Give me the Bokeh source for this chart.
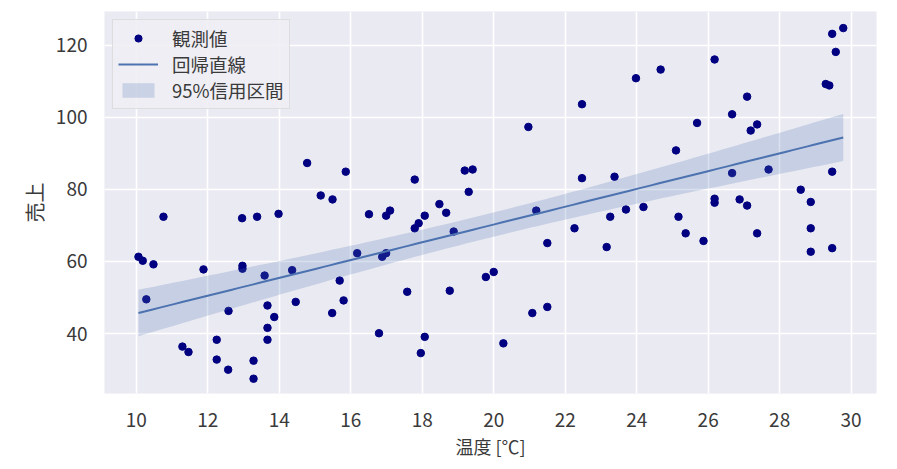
import numpy as np
from bokeh.plotting import figure
from bokeh.models import Legend, LegendItem, FixedTicker, Range1d
from bokeh.embed import file_html
from bokeh.resources import INLINE

# observed data: temperature [°C] and sales
temp = [10.06, 10.18, 10.48, 10.28, 10.76, 11.29, 11.46, 11.88, 12.25, 12.25,
        12.58, 12.57, 12.96, 12.97, 12.97, 13.28, 13.28, 13.38, 13.59, 13.67,
        13.86, 13.67, 13.67, 13.98, 14.36, 14.46, 14.78, 15.16, 15.49, 15.86,
        15.69, 15.80, 15.48, 16.18, 16.51, 16.79, 16.88, 16.99, 16.99, 17.10,
        17.58, 17.79, 17.79, 17.90, 18.07, 17.96, 18.07, 18.48, 18.67, 18.77,
        18.88, 19.19, 19.41, 19.30, 19.78, 20.00, 20.27, 20.97, 21.08, 21.19,
        21.50, 21.50, 22.26, 22.47, 22.47, 23.16, 23.26, 23.38, 23.70, 23.98,
        24.19, 24.67, 25.10, 25.17, 25.37, 25.69, 25.87, 26.18, 26.18, 26.18,
        26.67, 26.67, 26.88, 27.09, 27.09, 27.19, 27.37, 27.37, 27.69, 28.59,
        28.87, 28.87, 28.87, 29.29, 29.39, 29.47, 29.57, 29.47, 29.47, 29.78]
sales = [61.3, 60.2, 59.2, 49.5, 72.4, 36.4, 34.9, 57.8, 38.3, 32.8,
         46.3, 30.0, 72.0, 58.8, 58.0, 32.5, 27.5, 72.4, 56.1, 47.8,
         44.6, 41.6, 38.3, 73.2, 57.6, 48.8, 87.3, 78.3, 77.2, 84.9,
         54.7, 49.2, 45.7, 62.3, 73.1, 40.1, 61.3, 62.3, 72.7, 74.1,
         51.6, 82.7, 69.2, 70.6, 72.7, 34.6, 39.1, 75.9, 73.5, 51.9,
         68.3, 85.2, 85.5, 79.3, 55.7, 57.1, 37.3, 97.3, 45.7, 74.1,
         65.1, 47.4, 69.2, 103.6, 83.1, 64.0, 72.4, 83.5, 74.4, 110.8,
         75.1, 113.2, 90.8, 72.4, 67.8, 98.4, 65.7, 116.0, 77.4, 76.3,
         100.8, 84.5, 77.2, 105.7, 75.5, 96.3, 98.0, 67.8, 85.5, 79.9,
         76.5, 69.2, 62.7, 109.2, 108.8, 123.1, 118.1, 84.9, 63.7, 124.7]

x_ticks = [10, 12, 14, 16, 18, 20, 22, 24, 26, 28, 30]
y_ticks = [40, 60, 80, 100, 120]
labels = ["観測値", "回帰直線", "95%信用区間"]
x_label = "温度 [℃]"
y_label = "売上"

# linear regression with 95% confidence band
x = np.array(temp)
y = np.array(sales)
n = len(x)
slope, intercept = np.polyfit(x, y, 1)
resid = y - (slope * x + intercept)
s = np.sqrt(np.sum(resid ** 2) / (n - 2))
xbar = x.mean()
sxx = np.sum((x - xbar) ** 2)
t975 = 1.984
xs = np.linspace(x.min(), x.max(), 100)
ys = slope * xs + intercept
half = t975 * s * np.sqrt(1.0 / n + (xs - xbar) ** 2 / sxx)

FONT = "Noto Sans CJK JP"
TXT = "#3a3a3a"

p = figure(width=881, height=469, output_backend="svg", toolbar_location=None,
           x_range=Range1d(9.11, 30.71), y_range=Range1d(23.4, 129.3),
           min_border_left=104, min_border_right=5, min_border_top=11,
           min_border_bottom=76)
p.background_fill_color = "#EAEAF2"
p.border_fill_color = "white"
p.outline_line_color = None

for ax in (p.xaxis, p.yaxis):
    ax.axis_line_color = None
    ax.major_tick_line_color = None
    ax.minor_tick_line_color = None
    ax.major_tick_in = 0
    ax.major_tick_out = 0
    ax.minor_tick_in = 0
    ax.minor_tick_out = 0
    ax.major_label_text_font = FONT
    ax.major_label_text_color = TXT
    ax.axis_label_text_font = FONT
    ax.axis_label_text_color = TXT
    ax.axis_label_text_font_style = "normal"
p.xaxis.ticker = FixedTicker(ticks=x_ticks)
p.yaxis.ticker = FixedTicker(ticks=y_ticks)
p.xaxis.major_label_text_font_size = "19px"
p.yaxis.major_label_text_font_size = "19px"
p.xaxis.axis_label_text_font_size = "18px"
p.yaxis.axis_label_text_font_size = "20px"
p.xaxis.major_label_standoff = 19
p.yaxis.major_label_standoff = 17
p.xaxis.axis_label_standoff = 3
p.yaxis.axis_label_standoff = 4
p.xaxis.axis_label = x_label
p.yaxis.axis_label = y_label

p.xgrid.ticker = FixedTicker(ticks=x_ticks)
p.ygrid.ticker = FixedTicker(ticks=y_ticks)
for g in (p.xgrid, p.ygrid):
    g.grid_line_color = "white"
    g.grid_line_width = 1.6

r_pts = p.scatter(temp, sales, size=7.5, fill_color="#000080", line_color="#000080")
r_band = p.varea(x=xs, y1=ys - half, y2=ys + half, fill_color="#4C72B0", fill_alpha=0.22)
r_line = p.line(xs, ys, line_color="#4C72B0", line_width=2)

legend = Legend(items=[LegendItem(label=labels[0], renderers=[r_pts]),
                       LegendItem(label=labels[1], renderers=[r_line]),
                       LegendItem(label=labels[2], renderers=[r_band])],
                location="top_left")
legend.label_text_font = FONT
legend.label_text_font_size = "18.5px"
legend.label_text_color = TXT
legend.background_fill_color = "#EEEEF4"
legend.background_fill_alpha = 0.9
legend.border_line_color = "#CCCCCC"
legend.border_line_width = 1
legend.glyph_width = 40
legend.glyph_height = 18
legend.label_standoff = 14
legend.spacing = 0
legend.padding = 5
legend.margin = 8
p.add_layout(legend)

open("out.html", "w").write(file_html(p, INLINE))
